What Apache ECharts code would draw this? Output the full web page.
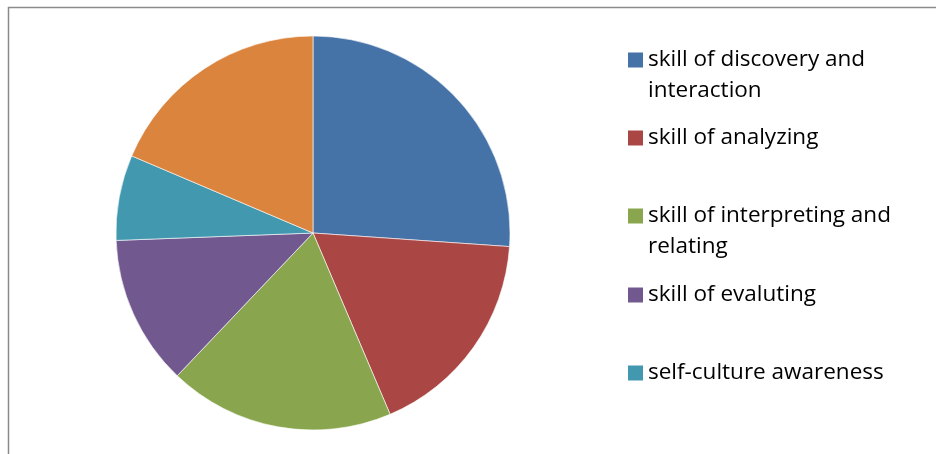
<!DOCTYPE html>
<html>
<head>
<meta charset="utf-8">
<script src="https://cdn.jsdelivr.net/npm/echarts@6/dist/echarts.min.js"></script>
<style>
html,body{margin:0;padding:0;background:#fff;}
#main{width:936px;height:454px;}
</style>
</head>
<body>
<div id="main"></div>
<script>
const categories = [
  'skill of discovery and interaction',
  'skill of analyzing',
  'skill of interpreting and relating',
  'skill of evaluting',
  'self-culture awareness',
  'other'
];
const values = [26.1, 17.5, 18.5, 12.3, 7.0, 18.6];
const colors = ['#4572A7', '#AA4643', '#89A54E', '#71588F', '#4198AF', '#DB843D'];
const legendLabels = [
  'skill of discovery and\ninteraction',
  'skill of analyzing',
  'skill of interpreting and\nrelating',
  'skill of evaluting',
  'self-culture awareness'
];
const legendCenters = [60, 138, 216, 295, 373];

const chart = echarts.init(document.getElementById('main'), null, {renderer: 'canvas'});
const FONT = 'Open Sans';
const LH = 31;
const ICON = 15;
const legends = legendLabels.map((lab, i) => {
  const multi = lab.indexOf('\n') >= 0;
  const txt = multi ? ' \n' + lab : lab;
  const nLines = txt.split('\n').length;
  return {
    orient: 'vertical',
    left: 628,
    top: legendCenters[i] - (nLines * LH) / 2,
    padding: 0,
    itemWidth: ICON,
    itemHeight: ICON,
    itemGap: 0,
    icon: 'path://M0,0 L10,0 L10,10 L0,10 Z',
    itemStyle: {borderWidth: 0},
    selectedMode: false,
    data: [categories[i]],
    formatter: () => txt,
    textStyle: {
      fontFamily: FONT,
      fontSize: 22.5,
      color: '#000',
      lineHeight: LH
    }
  };
});

chart.setOption({
  animation: false,
  color: colors,
  legend: legends,
  graphic: [{
    type: 'rect',
    shape: {x: 8.5, y: 7.5, width: 1200, height: 1200},
    style: {fill: 'none', stroke: '#8a8a8a', lineWidth: 1.5},
    silent: true
  }],
  series: [{
    type: 'pie',
    center: [313, 233],
    radius: 197,
    startAngle: 90,
    clockwise: true,
    label: {show: false},
    labelLine: {show: false},
    itemStyle: {borderColor: 'rgba(255,255,255,0.6)', borderWidth: 1},
    emphasis: {disabled: true},
    data: categories.map((c, i) => ({name: c, value: values[i]}))
  }]
});
</script>
</body>
</html>
